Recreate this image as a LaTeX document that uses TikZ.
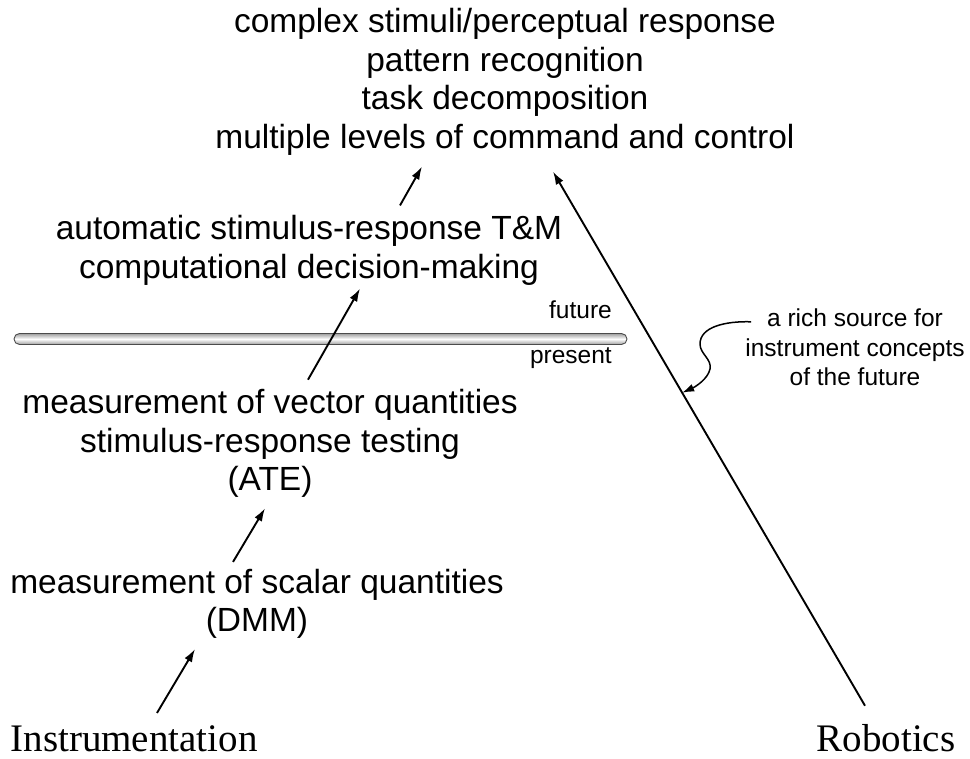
\documentclass[tikz,border=0pt]{standalone}
\usepackage{fontspec}
\setmainfont{Liberation Sans}
\newfontfamily\timesrm{Liberation Serif}
\usetikzlibrary{arrows.meta}

\tikzset{
  level/.style={align=center,inner sep=0,font=\fontsize{33.5}{38.5}\selectfont},
  note/.style={align=center,inner sep=0,font=\fontsize{24.5}{29.5}\selectfont},
  root/.style={inner sep=0,anchor=base,font=\timesrm\fontsize{39}{44}\selectfont},
  fwd/.style={-{Latex[length=13pt,width=8.5pt]},line width=1.9pt},
}

\begin{document}
\begin{tikzpicture}[x=1pt,y=1pt]
  \useasboundingbox (0,0) rectangle (970,759);

  % roots
  \node[root] (instr) at (134,7) {Instrumentation};
  \node[root] (robo) at (886,7) {Robotics};

  % levels of capability
  \node[level] (scal) at (257,155) {measurement of scalar quantities\\(DMM)};
  \node[level] (vect) at (270,315.5) {measurement of vector quantities\\stimulus-response testing\\(ATE)};
  \node[level] (auto) at (309,508.5) {automatic stimulus-response T\&M\\computational decision-making};
  \node[level] (top) at (505,677) {complex stimuli/perceptual response\\pattern recognition\\task decomposition\\multiple levels of command and control};

  % present / future divide
  \shade[top color=gray!75,bottom color=gray!75,middle color=white,
    draw=gray!60!black,line width=.9pt,rounded corners=5.5]
    (14,414.5) rectangle (627,425.5);
  \node[note,anchor=base east] (fut) at (612,440) {future};
  \node[note,anchor=base east] (pres) at (612,395) {present};

  \draw[fwd] ([shift={(23,13)}]instr.north) -- ([shift={(-62,-10)}]scal.south);
  \draw[fwd] ([shift={(-24,7)}]scal.north) -- ([shift={(-5,-10.5)}]vect.south);
  \draw[fwd] ([shift={(38,9.5)}]vect.north) -- ([shift={(51,-3)}]auto.south);
  \draw[fwd] ([shift={(91,10)}]auto.north) -- ([shift={(-83,-11)}]top.south);
  \draw[fwd] ([shift={(-21,19)}]robo.north) -- coordinate[pos=.586] (hit)
    ([shift={(48,-16)}]top.south);

  % remark on robotics
  \node[note] (rich) at (855,411.5) {a rich source for\\instrument concepts\\of the future};
  \draw[-{Latex[length=12pt,width=8pt]},line width=1.5pt]
    ([shift={(6,-13)}]rich.north west)
    .. controls (725,438) and (700,432) .. (700,415)
    .. controls (700,405) and (712,400) .. (710,390)
    .. controls (708,380) and (695,372) .. (hit);
\end{tikzpicture}
\end{document}
